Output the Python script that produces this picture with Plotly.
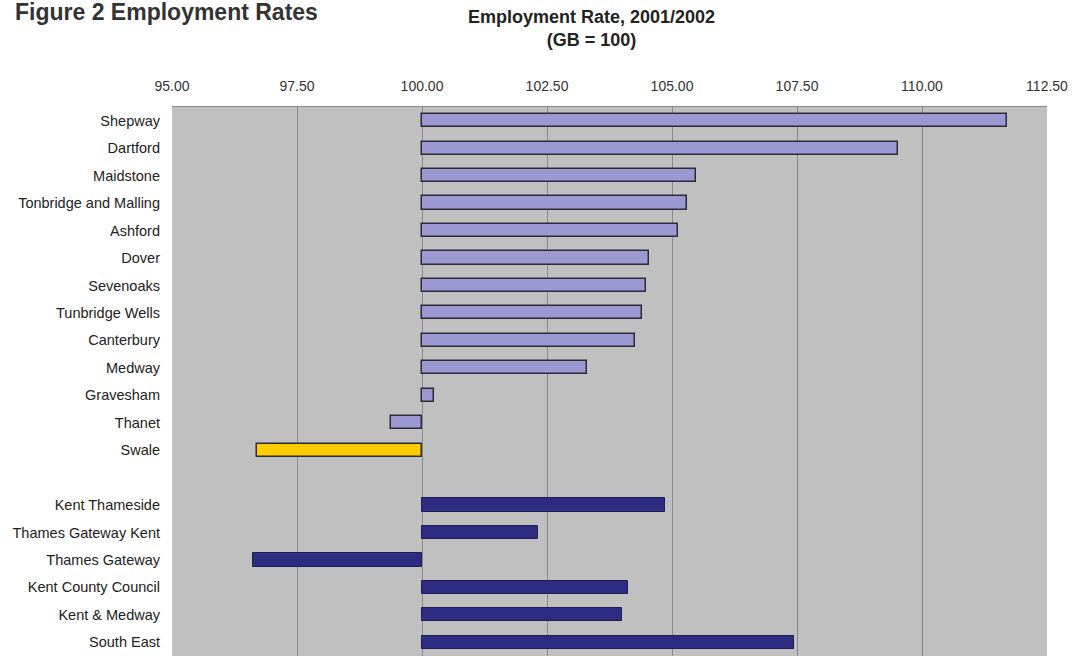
import plotly.graph_objects as go

districts = ["Shepway", "Dartford", "Maidstone", "Tonbridge and Malling", "Ashford",
             "Dover", "Sevenoaks", "Tunbridge Wells", "Canterbury", "Medway",
             "Gravesham", "Thanet", "Swale"]
district_values = [111.70, 109.51, 105.48, 105.30, 105.11, 104.53, 104.47, 104.40,
                   104.25, 103.30, 100.24, 99.37, 96.69]

areas = ["Kent Thameside", "Thames Gateway Kent", "Thames Gateway",
         "Kent County Council", "Kent & Medway", "South East"]
area_values = [104.85, 102.32, 96.61, 104.11, 103.99, 107.43]

highlight = "Swale"
x_ticks = [95.0, 97.5, 100.0, 102.5, 105.0, 107.5, 110.0, 112.5]
baseline = 100.0

# row positions: districts, one empty row, then areas
pos_d = list(range(len(districts)))
pos_a = [len(districts) + 1 + i for i in range(len(areas))]
n_rows = len(districts) + 1 + len(areas)

light = "#9C98D2"
yellow = "#FFCC00"
navy = "#2C2C82"

fig = go.Figure()
fig.add_trace(go.Bar(
    y=pos_d, x=[v - baseline for v in district_values], base=baseline,
    orientation="h", width=0.48,
    marker=dict(color=[yellow if d == highlight else light for d in districts],
                line=dict(color="#2a2a3a", width=1.5)),
    hoverinfo="skip", showlegend=False))
fig.add_trace(go.Bar(
    y=pos_a, x=[v - baseline for v in area_values], base=baseline,
    orientation="h", width=0.48,
    marker=dict(color=navy, line=dict(color="#1e1e50", width=1)),
    hoverinfo="skip", showlegend=False))

fig.update_layout(
    width=1072, height=656,
    margin=dict(l=172, r=25, t=107, b=0),
    paper_bgcolor="white", plot_bgcolor="#C0C0C0",
    font=dict(family="Liberation Sans, Arial, sans-serif", size=14, color="#222"),
    bargap=0,
    xaxis=dict(side="top", range=[x_ticks[0], x_ticks[-1]], tickvals=x_ticks,
               tickformat=".2f", showgrid=True, gridcolor="#8a8a8a", gridwidth=1,
               zeroline=False, showline=True, linecolor="#8a8a8a", linewidth=1,
               ticks="", ticklabelstandoff=9,
               tickfont=dict(size=14, color="#333")),
    yaxis=dict(range=[n_rows - 0.5, -0.5], tickvals=pos_d + pos_a,
               ticktext=districts + areas, showgrid=False, zeroline=False,
               ticks="", ticklabelstandoff=11,
               tickfont=dict(size=14.5, color="#222")),
)

fig.add_annotation(text="<b>Figure 2 Employment Rates</b>", xref="paper", yref="paper",
                   x=(13 - 172)/875, xanchor="left", y=1 + (107 - 27)/549, yanchor="bottom",
                   showarrow=False,
                   font=dict(family="Liberation Sans, Arial", size=23, color="#333"))
fig.add_annotation(text="<b>Employment Rate, 2001/2002<br>(GB = 100)</b>", xref="paper", yref="paper",
                   x=(591 - 172)/875, xanchor="center", y=1 + (107 - 5)/549, yanchor="top",
                   showarrow=False, align="center",
                   font=dict(family="Liberation Sans, Arial", size=18, color="#222"))

fig.write_html("out.html")
